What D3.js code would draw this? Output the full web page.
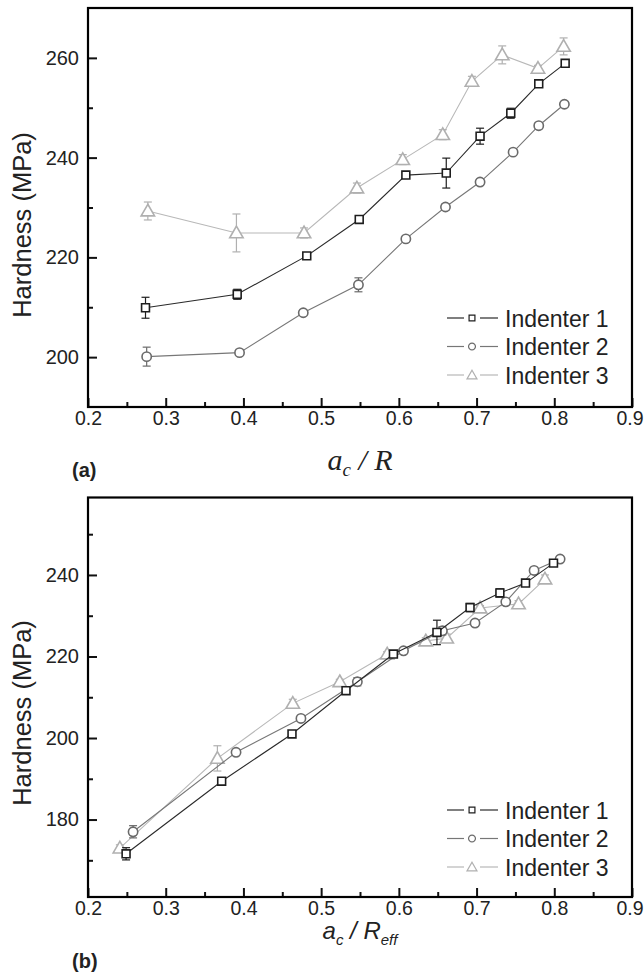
<!DOCTYPE html>
<html>
<head>
<meta charset="utf-8">
<script src="https://cdn.jsdelivr.net/npm/d3@7/dist/d3.min.js"></script>
<style>
  html, body { margin: 0; padding: 0; background: #fff; }
  svg { display: block; }
  text { font-family: "Liberation Sans", Arial, sans-serif; fill: #222; }
</style>
</head>
<body>
<svg id="fig" width="644" height="975"></svg>
<script>
// ---- Panel (a): hardness vs a_c / R ----
const seriesNames = ["Indenter 1", "Indenter 2", "Indenter 3"];

const a1X = [0.274, 0.392, 0.4815, 0.549, 0.609, 0.661, 0.7045, 0.744, 0.780, 0.814];
const a1Y = [209.9, 212.6, 220.3, 227.6, 236.5, 236.9, 244.3, 248.9, 254.8, 258.9];
const a1E = [2.1, 1.0, 0.5, 0.5, 0.5, 3.0, 1.6, 1.0, 0.5, 0.5];

const a2X = [0.2755, 0.395, 0.477, 0.548, 0.609, 0.660, 0.7045, 0.747, 0.780, 0.813];
const a2Y = [200.1, 200.9, 208.9, 214.5, 223.7, 230.1, 235.1, 241.1, 246.4, 250.7];
const a2E = [1.9, 0.5, 0.5, 1.4, 0.5, 0.6, 0.5, 0.5, 0.6, 0.5];

const a3X = [0.277, 0.391, 0.478, 0.546, 0.605, 0.6565, 0.694, 0.733, 0.779, 0.812];
const a3Y = [229.3, 224.9, 224.9, 233.9, 239.6, 244.6, 255.3, 260.6, 257.9, 262.3];
const a3E = [1.8, 3.8, 1.0, 1.0, 1.0, 1.0, 1.0, 1.8, 0.6, 1.7];

// ---- Panel (b): hardness vs a_c / R_eff ----
const b1X = [0.249, 0.372, 0.4625, 0.532, 0.593, 0.649, 0.6916, 0.730, 0.763, 0.799];
const b1Y = [171.6, 189.4, 201.0, 211.6, 220.6, 225.9, 232.0, 235.6, 238.0, 242.9];
const b1E = [1.5, 0.8, 0.6, 0.6, 0.5, 3.0, 1.0, 1.0, 0.5, 0.5];

const b2X = [0.258, 0.3905, 0.474, 0.5466, 0.606, 0.656, 0.698, 0.7376, 0.774, 0.8075];
const b2Y = [177.0, 196.5, 204.8, 213.8, 221.4, 226.3, 228.2, 233.4, 241.1, 243.9];
const b2E = [1.5, 0.5, 0.5, 1.0, 0.5, 1.0, 0.5, 0.5, 0.6, 0.5];

const b3X = [0.241, 0.3665, 0.4635, 0.524, 0.585, 0.6346, 0.6616, 0.7045, 0.754, 0.788];
const b3Y = [173.0, 195.0, 208.5, 213.8, 220.6, 223.8, 224.5, 231.9, 232.9, 239.0];
const b3E = [0.8, 3.1, 1.0, 0.6, 0.6, 0.8, 1.0, 0.6, 0.8, 1.0];

// Tick values
const xMajor = [0.2, 0.3, 0.4, 0.5, 0.6, 0.7, 0.8, 0.9];
const xMinor = [0.25, 0.35, 0.45, 0.55, 0.65, 0.75, 0.85];
const aYMajor = [200, 220, 240, 260];
const aYMinor = [210, 230, 250];
const bYMajor = [180, 200, 220, 240];
const bYMinor = [170, 190, 210, 230, 250];

// Series styling (dark, medium, light grey)
const lineColors = ["#2a2a2a", "#777777", "#b8b8b8"];
const markColors = ["#1e1e1e", "#6a6a6a", "#b0b0b0"];
const shapes = [d3.symbolSquare, d3.symbolCircle, d3.symbolTriangle];
const sizes = [62, 68, 78];

const svg = d3.select("#fig");

function zip(xs, ys, es) { return xs.map((x, i) => ({ x, y: ys[i], e: es[i] })); }

function panel(cfg) {
  const x = d3.scaleLinear().domain([0.2, 0.9]).range([88, 632]);
  const y = d3.scaleLinear().domain(cfg.yDomain).range([cfg.bottom, cfg.top]);
  const g = svg.append("g");

  // minor and major ticks drawn inward
  const yAxis = d3.axisLeft(y).tickValues(cfg.yMajor).tickFormat(d3.format("d"))
    .tickSizeInner(-9).tickSizeOuter(0).tickPadding(9);
  const yMin = d3.axisLeft(y).tickValues(cfg.yMinor).tickFormat("").tickSizeInner(-5).tickSizeOuter(0);
  const xAxis = d3.axisBottom(x).tickValues(xMajor).tickFormat(d3.format(".1f"))
    .tickSizeInner(-9).tickSizeOuter(0).tickPadding(4);
  const xMin = d3.axisBottom(x).tickValues(xMinor).tickFormat("").tickSizeInner(-5).tickSizeOuter(0);

  [yAxis, yMin].forEach(ax => {
    const a = g.append("g").attr("transform", "translate(88,0)").call(ax);
    a.select(".domain").remove();
    a.selectAll("line").attr("stroke", "#111").attr("stroke-width", 2);
    a.selectAll("text").style("font-size", "20px").style("font-family", "Liberation Sans, Arial, sans-serif").attr("fill", "#222");
  });
  [xAxis, xMin].forEach(ax => {
    const a = g.append("g").attr("transform", `translate(0,${cfg.bottom})`).call(ax);
    a.select(".domain").remove();
    a.selectAll("line").attr("stroke", "#111").attr("stroke-width", 2);
    a.selectAll("text").style("font-size", "19.5px").style("font-family", "Liberation Sans, Arial, sans-serif").attr("fill", "#222");
    // keep the last label inside the page edge
    a.selectAll(".tick").filter(d => d === 0.9).select("text").attr("dx", -2.5);
  });

  // frame
  g.append("rect").attr("x", 88).attr("y", cfg.top).attr("width", 632 - 88).attr("height", cfg.bottom - cfg.top)
    .attr("fill", "none").attr("stroke", "#000").attr("stroke-width", 2.2);

  const line = d3.line().x(d => x(d.x)).y(d => y(d.y));

  // draw lightest series first so darker ones sit on top
  [2, 1, 0].forEach(k => {
    const data = cfg.series[k];
    const sg = g.append("g");
    sg.append("path").datum(data).attr("d", line).attr("fill", "none")
      .attr("stroke", lineColors[k]).attr("stroke-width", 1.1);
    // error bars
    const eb = sg.selectAll(".eb").data(data).enter().append("g");
    eb.append("line").attr("x1", d => x(d.x)).attr("x2", d => x(d.x))
      .attr("y1", d => y(d.y - d.e)).attr("y2", d => y(d.y + d.e))
      .attr("stroke", markColors[k]).attr("stroke-width", 1.2);
    [-1, 1].forEach(s => {
      eb.append("line").attr("x1", d => x(d.x) - 4).attr("x2", d => x(d.x) + 4)
        .attr("y1", d => y(d.y + s * d.e)).attr("y2", d => y(d.y + s * d.e))
        .attr("stroke", markColors[k]).attr("stroke-width", 1.2);
    });
    sg.selectAll(".m").data(data).enter().append("path")
      .attr("transform", d => `translate(${x(d.x)},${y(d.y) + (k === 2 ? 1 : 0)})`)
      .attr("d", d3.symbol().type(shapes[k]).size(sizes[k]))
      .attr("fill", "#fff").attr("stroke", markColors[k]).attr("stroke-width", 1.6);
  });

  // legend
  const lg = g.append("g");
  seriesNames.forEach((name, k) => {
    const cy = cfg.legendY + k * 28.5;
    lg.append("line").attr("x1", 447).attr("x2", 464).attr("y1", cy).attr("y2", cy)
      .attr("stroke", lineColors[k]).attr("stroke-width", 1.2);
    lg.append("line").attr("x1", 480).attr("x2", 498).attr("y1", cy).attr("y2", cy)
      .attr("stroke", lineColors[k]).attr("stroke-width", 1.2);
    lg.append("path").attr("transform", `translate(472,${cy + (k === 2 ? 1 : 0)})`)
      .attr("d", d3.symbol().type(shapes[k]).size(sizes[k] * 0.55))
      .attr("fill", "#fff").attr("stroke", markColors[k]).attr("stroke-width", 1.2);
    lg.append("text").attr("x", 505).attr("y", cy + 8.5).style("font-size", "23px").text(name);
  });

  // y label
  g.append("text").attr("transform", `translate(31,${cfg.yLabelC}) rotate(-90)`)
    .attr("text-anchor", "middle").style("font-size", "25.5px").text("Hardness (MPa)");

  // panel tag
  g.append("text").attr("x", 72).attr("y", cfg.tagY).style("font-size", "20px")
    .style("font-weight", "bold").text(cfg.tag);

  return g;
}

const ga = panel({
  yDomain: [190, 270], top: 8, bottom: 407,
  yMajor: aYMajor, yMinor: aYMinor,
  series: [zip(a1X, a1Y, a1E), zip(a2X, a2Y, a2E), zip(a3X, a3Y, a3E)],
  legendY: 318, yLabelC: 225, tag: "(a)", tagY: 477
});
// x label (a): italic serif
const la = ga.append("text").attr("x", 360).attr("y", 470).attr("text-anchor", "middle")
  .style("font-family", "Liberation Serif, Times New Roman, serif").style("font-style", "italic").style("font-size", "30px");
la.append("tspan").text("a");
la.append("tspan").attr("dy", 6).style("font-size", "19px").text("c");
la.append("tspan").attr("dy", -6).text(" / R");

const gb = panel({
  yDomain: [161, 259], top: 497.5, bottom: 897,
  yMajor: bYMajor, yMinor: bYMinor,
  series: [zip(b1X, b1Y, b1E), zip(b2X, b2Y, b2E), zip(b3X, b3Y, b3E)],
  legendY: 810, yLabelC: 713, tag: "(b)", tagY: 968
});
// x label (b): italic sans
const lb = gb.append("text").attr("x", 360).attr("y", 939).attr("text-anchor", "middle")
  .style("font-style", "italic").style("font-size", "24px");
lb.append("tspan").text("a");
lb.append("tspan").attr("dy", 6).style("font-size", "15px").text("c");
lb.append("tspan").attr("dy", -6).text(" / R");
lb.append("tspan").attr("dy", 6).style("font-size", "15px").text("eff");
</script>
</body>
</html>
